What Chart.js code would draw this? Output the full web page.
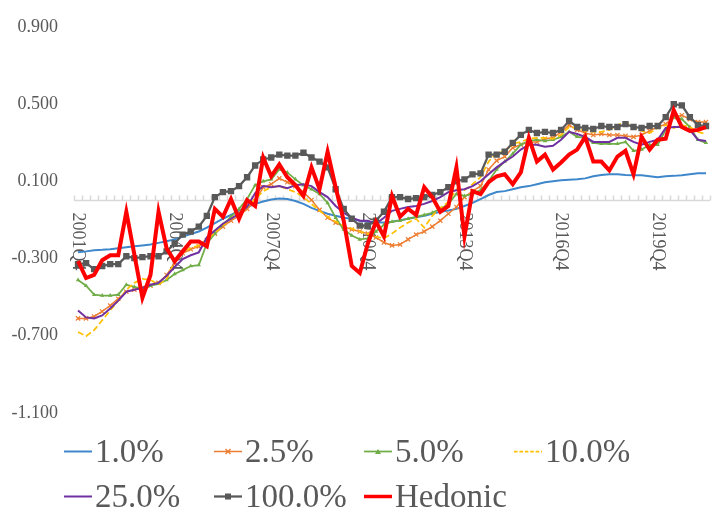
<!DOCTYPE html>
<html>
<head>
<meta charset="utf-8">
<script src="https://cdn.jsdelivr.net/npm/chart.js@4.4.1/dist/chart.umd.min.js"></script>
<style>
  body { margin: 0; background: #fff; }
  #wrap { position: relative; width: 716px; height: 523px; }
  #legend { position: absolute; left: 0; top: 0; width: 716px; height: 523px; pointer-events: none; }
  .item { position: absolute; height: 33px; display: flex; align-items: center;
          font: 33px "Liberation Serif", serif; color: #595959; line-height: 33px; white-space: nowrap; }
  .item svg { margin-right: 3px; }
</style>
</head>
<body>
<div id="wrap">
  <canvas id="chart" width="716" height="523"></canvas>
  <div id="legend"></div>
</div>
<script>
// --- DATA ---
const categories = [
  '2001Q4',
  '2002Q1','2002Q2','2002Q3','2002Q4','2003Q1','2003Q2','2003Q3','2003Q4',
  '2004Q1','2004Q2','2004Q3','2004Q4','2005Q1','2005Q2','2005Q3','2005Q4',
  '2006Q1','2006Q2','2006Q3','2006Q4','2007Q1','2007Q2','2007Q3','2007Q4',
  '2008Q1','2008Q2','2008Q3','2008Q4','2009Q1','2009Q2','2009Q3','2009Q4',
  '2010Q1','2010Q2','2010Q3','2010Q4','2011Q1','2011Q2','2011Q3','2011Q4',
  '2012Q1','2012Q2','2012Q3','2012Q4','2013Q1','2013Q2','2013Q3','2013Q4',
  '2014Q1','2014Q2','2014Q3','2014Q4','2015Q1','2015Q2','2015Q3','2015Q4',
  '2016Q1','2016Q2','2016Q3','2016Q4','2017Q1','2017Q2','2017Q3','2017Q4',
  '2018Q1','2018Q2','2018Q3','2018Q4','2019Q1','2019Q2','2019Q3','2019Q4',
  '2020Q1','2020Q2','2020Q3','2020Q4','2021Q1','2021Q2'
];
const tickLabels = ['2001Q4','2004Q4','2007Q4','2010Q4','2013Q4','2016Q4','2019Q4'];
const yTicks = [0.9, 0.5, 0.1, -0.3, -0.7, -1.1];

const s1 = [-0.268,-0.263,-0.257,-0.255,-0.252,-0.247,-0.242,-0.237,-0.232,-0.227,
  -0.219,-0.211,-0.201,-0.186,-0.173,-0.160,-0.140,-0.117,-0.094,-0.074,
  -0.053,-0.033,-0.017,-0.005,0.006,0.011,0.008,-0.002,-0.017,-0.038,
  -0.053,-0.068,-0.079,-0.089,-0.094,-0.104,-0.109,-0.114,-0.114,-0.109,
  -0.102,-0.094,-0.086,-0.079,-0.068,-0.058,-0.051,-0.043,-0.028,-0.012,
  0.008,0.029,0.044,0.049,0.059,0.069,0.075,0.085,0.095,0.100,
  0.105,0.108,0.110,0.115,0.126,0.133,0.136,0.136,0.133,0.131,
  0.131,0.126,0.121,0.126,0.128,0.131,0.136,0.141,0.141];
const s2_5 = [-0.610,-0.610,-0.600,-0.574,-0.544,-0.508,-0.472,-0.462,-0.452,-0.441,
  -0.426,-0.385,-0.324,-0.273,-0.252,-0.237,-0.206,-0.171,-0.135,-0.104,
  -0.079,-0.043,-0.002,0.069,0.085,0.115,0.095,0.075,0.044,0.003,
  -0.048,-0.089,-0.114,-0.135,-0.150,-0.160,-0.171,-0.191,-0.217,-0.232,
  -0.227,-0.201,-0.176,-0.160,-0.135,-0.104,-0.068,-0.033,0.018,0.049,
  0.075,0.161,0.207,0.228,0.274,0.289,0.304,0.304,0.320,0.325,
  0.356,0.391,0.366,0.350,0.340,0.345,0.340,0.340,0.335,0.330,
  0.340,0.361,0.381,0.396,0.432,0.442,0.422,0.407,0.407];
const s5 = [-0.411,-0.441,-0.487,-0.492,-0.492,-0.487,-0.436,-0.447,-0.457,-0.441,
  -0.431,-0.411,-0.380,-0.360,-0.339,-0.334,-0.222,-0.171,-0.125,-0.084,
  -0.043,0.008,0.080,0.100,0.110,0.161,0.146,0.110,0.080,0.059,
  0.034,-0.012,-0.089,-0.150,-0.181,-0.201,-0.196,-0.160,-0.125,-0.109,
  -0.104,-0.094,-0.084,-0.074,-0.063,-0.043,-0.017,0.034,0.024,0.034,
  0.054,0.100,0.161,0.202,0.243,0.289,0.309,0.315,0.309,0.315,
  0.330,0.356,0.330,0.325,0.299,0.294,0.294,0.294,0.304,0.258,
  0.264,0.289,0.289,0.366,0.432,0.422,0.381,0.315,0.299];
const s10 = [-0.681,-0.702,-0.671,-0.620,-0.569,-0.518,-0.462,-0.426,-0.406,-0.411,
  -0.436,-0.406,-0.314,-0.263,-0.247,-0.232,-0.201,-0.166,-0.130,-0.094,
  -0.063,-0.033,0.008,0.049,0.069,0.075,0.059,0.044,0.018,-0.017,
  -0.053,-0.084,-0.109,-0.130,-0.145,-0.160,-0.171,-0.186,-0.196,-0.171,
  -0.140,-0.114,-0.094,-0.140,-0.079,-0.038,-0.007,0.059,0.054,0.085,
  0.121,0.202,0.248,0.253,0.294,0.304,0.320,0.325,0.325,0.320,
  0.340,0.381,0.376,0.361,0.356,0.356,0.366,0.391,0.407,0.381,
  0.361,0.350,0.376,0.391,0.376,0.391,0.381,0.356,0.345];
const s25 = [-0.569,-0.605,-0.610,-0.595,-0.559,-0.518,-0.472,-0.462,-0.452,-0.436,
  -0.426,-0.390,-0.344,-0.303,-0.283,-0.268,-0.191,-0.155,-0.120,-0.094,
  -0.068,-0.033,0.039,0.075,0.069,0.075,0.064,0.080,0.085,0.075,
  0.044,0.018,-0.028,-0.063,-0.089,-0.104,-0.104,-0.120,-0.089,-0.053,
  -0.043,-0.033,-0.028,-0.017,-0.002,0.018,0.044,0.054,0.059,0.075,
  0.100,0.136,0.172,0.202,0.228,0.264,0.289,0.289,0.279,0.284,
  0.315,0.356,0.345,0.330,0.304,0.304,0.304,0.325,0.325,0.304,
  0.289,0.304,0.315,0.376,0.381,0.381,0.366,0.315,0.309];
const s100 = [-0.329,-0.324,-0.355,-0.339,-0.329,-0.329,-0.288,-0.298,-0.293,-0.288,
  -0.288,-0.263,-0.222,-0.176,-0.160,-0.135,-0.079,0.018,0.044,0.049,
  0.075,0.121,0.182,0.213,0.223,0.238,0.233,0.233,0.248,0.223,
  0.202,0.172,0.059,-0.043,-0.094,-0.130,-0.130,-0.104,-0.058,0.018,
  0.018,0.008,0.013,0.018,0.029,0.044,0.069,0.100,0.110,0.136,
  0.141,0.238,0.238,0.253,0.299,0.340,0.366,0.350,0.356,0.350,
  0.366,0.412,0.381,0.376,0.371,0.386,0.381,0.381,0.396,0.381,
  0.376,0.386,0.386,0.432,0.499,0.493,0.432,0.391,0.386];
const hedonic = [-0.314,-0.401,-0.385,-0.309,-0.283,-0.283,-0.058,-0.280,-0.503,-0.385,
  -0.058,-0.247,-0.314,-0.263,-0.212,-0.212,-0.237,-0.043,-0.084,0.008,
  -0.094,0.003,-0.028,0.223,0.126,0.187,0.121,0.080,0.024,0.172,
  0.059,0.253,0.069,-0.104,-0.339,-0.375,-0.222,-0.109,-0.186,0.024,
  -0.084,-0.043,-0.074,0.069,0.018,-0.058,-0.028,0.172,-0.186,0.049,
  0.034,0.095,0.126,0.136,0.085,0.146,0.325,0.202,0.238,0.161,
  0.197,0.238,0.264,0.330,0.202,0.202,0.156,0.228,0.258,0.136,
  0.330,0.264,0.315,0.320,0.468,0.381,0.361,0.366,0.381];

// --- SERIES STYLES ---
const series = [
  { label: '1.0%',    data: s1,      color: '#3F87CB', width: 2 },
  { label: '2.5%',    data: s2_5,    color: '#ED7D31', width: 1.5, point: 'crossRot', r: 3 },
  { label: '5.0%',    data: s5,      color: '#70AD47', width: 1.75, point: 'triangle', r: 2.5 },
  { label: '10.0%',   data: s10,     color: '#FFC000', width: 1.75, dash: [6, 3] },
  { label: '25.0%',   data: s25,     color: '#7030A0', width: 2 },
  { label: '100.0%',  data: s100,    color: '#595959', width: 2.25, point: 'rect', r: 4.5 },
  { label: 'Hedonic', data: hedonic, color: '#FF0000', width: 4 }
];

const FONT = '"Liberation Serif", serif';
const TEXT = '#595959';

// --- CATEGORY AXIS AT ZERO (rotated labels, small ticks) ---
const zeroAxis = {
  id: 'zeroAxis',
  beforeDatasetsDraw(chart) {
    const { ctx, chartArea, scales: { x, y } } = chart;
    const y0 = y.getPixelForValue(0);
    const half = (x.getPixelForValue(1) - x.getPixelForValue(0)) / 2;
    ctx.save();
    ctx.strokeStyle = '#D9D9D9';
    ctx.lineWidth = 1.5;
    ctx.beginPath();
    ctx.moveTo(chartArea.left, y0);
    ctx.lineTo(chartArea.right, y0);
    for (let i = 0; i <= categories.length; i++) {
      const px = Math.round(x.getPixelForValue(i) - half) + 0.5;
      ctx.moveTo(px, y0);
      ctx.lineTo(px, y0 - 5);
    }
    ctx.stroke();

    ctx.fillStyle = TEXT;
    ctx.font = '18px ' + FONT;
    ctx.textAlign = 'left';
    ctx.textBaseline = 'middle';
    categories.forEach((c, i) => {
      if (!tickLabels.includes(c)) return;
      ctx.save();
      ctx.translate(x.getPixelForValue(i), y0 + 12);
      ctx.rotate(Math.PI / 2);
      ctx.fillText(c, 0, 0);
      ctx.restore();
    });
    ctx.restore();
  }
};

const datasets = series.map((s, i) => ({
  label: s.label,
  data: s.data,
  borderColor: s.color,
  backgroundColor: s.color,
  borderWidth: s.width,
  borderDash: s.dash || [],
  pointStyle: s.point || 'circle',
  pointRadius: s.point ? s.r : 0,
  pointBorderWidth: s.point === 'crossRot' ? 1.2 : 0,
  pointBorderColor: s.color,
  pointBackgroundColor: s.color,
  tension: 0,
  fill: false,
  order: series.length - i
}));

new Chart(document.getElementById('chart'), {
  type: 'line',
  data: { labels: categories, datasets },
  options: {
    responsive: false,
    animation: false,
    events: [],
    layout: { padding: { top: 18, bottom: 110, left: 0, right: 6 } },
    plugins: { legend: { display: false }, tooltip: { enabled: false } },
    scales: {
      x: { type: 'category', display: false, offset: true },
      y: {
        min: -1.1, max: 0.9,
        afterBuildTicks: s => { s.ticks = yTicks.map(v => ({ value: v })); },
        afterFit: s => { s.width = 74; },
        grid: { display: false, drawTicks: false },
        border: { display: false },
        ticks: {
          padding: 16,
          color: TEXT,
          font: { family: FONT, size: 18 },
          callback: v => v.toFixed(3)
        }
      }
    }
  },
  plugins: [zeroAxis]
});

// --- LEGEND (two rows, fixed columns like the source) ---
function sampleSvg(s) {
  let marks = '';
  if (s.point === 'crossRot') marks = `<path d="M11.5 3 L16.5 8 M16.5 3 L11.5 8" stroke="${s.color}" stroke-width="1.4"/>`;
  if (s.point === 'triangle') marks = `<path d="M14 3 L17 8 L11 8 Z" fill="${s.color}"/>`;
  if (s.point === 'rect') marks = `<rect x="11" y="2.5" width="6" height="6" fill="${s.color}"/>`;
  const dash = s.dash ? `stroke-dasharray="${s.dash.map(d => d * 0.6).join(' ')}"` : '';
  return `<svg width="28" height="11" viewBox="0 0 28 11">
    <line x1="0" y1="5.5" x2="28" y2="5.5" stroke="${s.color}" stroke-width="${Math.min(s.width, 3.5)}" ${dash}/>${marks}</svg>`;
}
const legendCols = [64, 214, 364, 514];
const legendRows = [434.5, 480];
const legendEl = document.getElementById('legend');
series.forEach((s, i) => {
  const el = document.createElement('div');
  el.className = 'item';
  el.style.left = legendCols[i % 4] + 'px';
  el.style.top = legendRows[Math.floor(i / 4)] + 'px';
  el.innerHTML = sampleSvg(s) + '<span>' + s.label + '</span>';
  legendEl.appendChild(el);
});
</script>
</body>
</html>
